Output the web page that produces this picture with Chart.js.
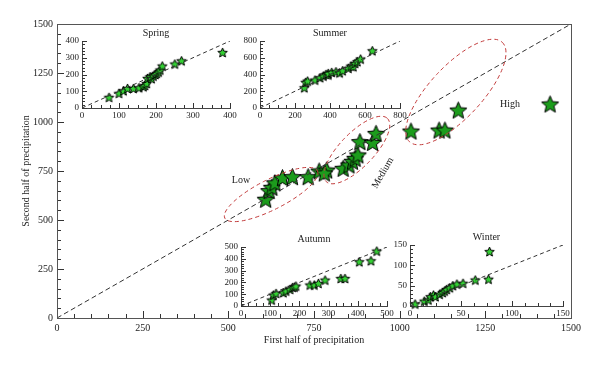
<!DOCTYPE html>
<html>
<head>
<meta charset="utf-8">
<script src="https://cdn.jsdelivr.net/npm/chart.js@4/dist/chart.umd.min.js"></script>
<style>
    body { margin: 0; background: #fff; }
    #wrap { position: relative; width: 600px; height: 367px; }
    #wrap canvas { position: absolute; }
</style>
</head>
<body>
<div id="wrap">
    <canvas id="mainChart" width="600" height="367" style="left:0;top:0"></canvas>
    <canvas id="springChart"></canvas>
    <canvas id="summerChart"></canvas>
    <canvas id="autumnChart"></canvas>
    <canvas id="winterChart"></canvas>
</div>
<script>
// annual: first half vs second half of precipitation
const mainX = [609, 619, 627, 636, 658, 687, 733, 765, 787, 780, 835, 852, 862, 870, 878, 884, 921, 931, 1033, 1115, 1132, 1171, 1439];
const mainY = [606, 650, 667, 690, 716, 721, 721, 750, 755, 740, 764, 781, 800, 815, 832, 900, 896, 942, 954, 959, 959, 1061, 1092];
const mainDiag = [0, 1500];

// seasons
const springX = [73, 100, 112, 123, 139, 154, 166, 170, 175, 177, 184, 188, 193, 198, 202, 207, 211, 217, 251, 269, 380];
const springY = [64, 88, 103, 117, 117, 121, 127, 135, 147, 177, 187, 175, 191, 200, 207, 215, 227, 251, 263, 282, 332];
const summerX = [253, 261, 272, 314, 343, 362, 377, 390, 390, 410, 434, 455, 472, 505, 520, 533, 543, 556, 575, 642];
const summerY = [242, 307, 322, 334, 362, 382, 402, 395, 414, 426, 433, 420, 445, 474, 500, 493, 533, 553, 585, 684];
const autumnX = [105, 111, 120, 145, 154, 168, 177, 183, 188, 236, 251, 265, 288, 342, 356, 405, 445, 465];
const autumnY = [51, 93, 107, 113, 127, 141, 158, 160, 169, 178, 178, 192, 220, 234, 234, 375, 384, 466];
const winterX = [5, 14, 18, 20, 23, 25, 29, 32, 34, 36, 39, 42, 46, 52, 64, 77, 78];
const winterY = [5, 12, 15, 23, 27, 23, 29, 33, 37, 41, 45, 50, 54, 56, 64, 66, 134];

const groupLabels = ["Low", "Medium", "High"];

Chart.defaults.font.family = '"Liberation Serif", "DejaVu Serif", serif';
Chart.defaults.color = "#222";
Chart.defaults.animation = false;

// five pointed star used as point style
function makeStar(r, fill) {
    const c = document.createElement("canvas");
    const s = Math.ceil(r * 2 + 3);
    c.width = s;
    c.height = s;
    const ctx = c.getContext("2d");
    ctx.translate(s / 2, s / 2 + r * 0.1);
    ctx.beginPath();
    for (let i = 0; i < 10; i++) {
        const rad = i % 2 === 0 ? r : r * 0.45;
        const a = -Math.PI / 2 + i * Math.PI / 5;
        ctx.lineTo(rad * Math.cos(a), rad * Math.sin(a));
    }
    ctx.closePath();
    ctx.fillStyle = fill;
    ctx.fill();
    ctx.lineWidth = 1;
    ctx.strokeStyle = "#000";
    ctx.stroke();
    return c;
}

function toPoints(xs, ys) {
    return xs.map((x, i) => ({ x: x, y: ys[i] }));
}

// plain numbers, no thousands separator
const plain = v => String(v);

// tick marks drawn on the inside of the axes, major and minor
const innerTicks = {
    id: "innerTicks",
    afterDraw(chart, args, opts) {
        const { ctx, chartArea: a, scales } = chart;
        const xs = scales.x, ys = scales.y;
        ctx.save();
        ctx.strokeStyle = "#333";
        ctx.lineWidth = 1;
        ctx.beginPath();
        for (let v = xs.min; v <= xs.max + 1e-6; v += opts.xMinor) {
            const px = Math.round(xs.getPixelForValue(v)) + 0.5;
            const len = Math.abs(v / opts.xMajor - Math.round(v / opts.xMajor)) < 1e-6 ? opts.majorLen : opts.minorLen;
            ctx.moveTo(px, a.bottom);
            ctx.lineTo(px, a.bottom - len);
        }
        for (let v = ys.min; v <= ys.max + 1e-6; v += opts.yMinor) {
            const py = Math.round(ys.getPixelForValue(v)) + 0.5;
            const len = Math.abs(v / opts.yMajor - Math.round(v / opts.yMajor)) < 1e-6 ? opts.majorLen : opts.minorLen;
            ctx.moveTo(a.left, py);
            ctx.lineTo(a.left + len, py);
        }
        ctx.stroke();
        if (opts.frame) {
            ctx.strokeStyle = "#555";
            ctx.strokeRect(a.left + 0.5, a.top + 0.5, a.right - a.left, a.bottom - a.top);
        }
        ctx.restore();
    }
};

// dashed red ellipses round the groups, with their names
const groups = {
    id: "groups",
    afterDatasetsDraw(chart) {
        const { ctx, scales } = chart;
        const xs = scales.x, ys = scales.y;
        const ellipses = [
            { cx: 625, cy: 630, rx: 52, ry: 15, rot: -27 },
            { cx: 875, cy: 857, rx: 44, ry: 17, rot: -46 },
            { cx: 1164, cy: 1153, rx: 68, ry: 26, rot: -47 }
        ];
        ctx.save();
        ctx.strokeStyle = "#c23b3b";
        ctx.lineWidth = 1;
        ctx.setLineDash([4, 3]);
        ellipses.forEach(e => {
            ctx.beginPath();
            ctx.ellipse(xs.getPixelForValue(e.cx), ys.getPixelForValue(e.cy), e.rx, e.ry, e.rot * Math.PI / 180, 0, Math.PI * 2);
            ctx.stroke();
        });
        ctx.setLineDash([]);
        ctx.fillStyle = "#222";
        ctx.font = '10px "Liberation Serif", serif';
        ctx.textAlign = "center";
        ctx.textBaseline = "middle";
        ctx.fillText(groupLabels[0], xs.getPixelForValue(537), ys.getPixelForValue(704));
        ctx.fillText(groupLabels[2], xs.getPixelForValue(1322), ys.getPixelForValue(1092));
        ctx.translate(xs.getPixelForValue(951), ys.getPixelForValue(740));
        ctx.rotate(-60 * Math.PI / 180);
        ctx.fillText(groupLabels[1], 0, 0);
        ctx.restore();
    }
};

const bigStar = makeStar(9, "#1c9c1c");
const smallStar = makeStar(5, "#33d133");

new Chart(document.getElementById("mainChart"), {
    type: "scatter",
    data: {
        datasets: [
            {
                data: toPoints(mainDiag, mainDiag),
                showLine: true,
                borderColor: "#333",
                borderWidth: 1,
                borderDash: [5, 3],
                pointRadius: 0
            },
            {
                data: toPoints(mainX, mainY),
                pointStyle: bigStar,
                pointRadius: 9
            }
        ]
    },
    options: {
        responsive: false,
        layout: { padding: { top: 24, right: 29 } },
        plugins: {
            legend: { display: false },
            tooltip: { enabled: false },
            innerTicks: { xMinor: 50, xMajor: 250, yMinor: 50, yMajor: 250, majorLen: 7, minorLen: 4, frame: true }
        },
        scales: {
            x: {
                min: 0, max: 1500,
                afterFit: s => { s.height = 49; },
                grid: { display: false, drawTicks: false },
                border: { display: true, color: "#444" },
                ticks: { stepSize: 250, padding: 4, autoSkip: false, callback: plain, font: { size: 10 } },
                title: { display: true, text: "First half of precipitation", font: { size: 10 }, padding: { bottom: 21 } }
            },
            y: {
                min: 0, max: 1500,
                afterFit: s => { s.width = 57; },
                grid: { display: false, drawTicks: false },
                border: { display: true, color: "#444" },
                ticks: { stepSize: 250, padding: 4, autoSkip: false, callback: plain, font: { size: 10 } },
                title: { display: true, text: "Second half of precipitation", font: { size: 10 }, padding: { top: 20 } }
            }
        }
    },
    plugins: [innerTicks, groups]
});

function makeInset(id, box, name, xs, ys, max, major, xMinor, yMinor) {
    const canvas = document.getElementById(id);
    canvas.width = box.r - box.l + 26 + 14;
    canvas.height = box.b - box.t + 18 + 14;
    canvas.style.left = (box.l - 26) + "px";
    canvas.style.top = (box.t - 18) + "px";
    const diag = [0, max];
    new Chart(canvas, {
        type: "scatter",
        data: {
            datasets: [
                {
                    data: toPoints(diag, diag),
                    showLine: true,
                    borderColor: "#333",
                    borderWidth: 1,
                    borderDash: [4, 3],
                    pointRadius: 0
                },
                {
                    data: toPoints(xs, ys),
                    pointStyle: smallStar,
                    pointRadius: 5,
                    clip: false
                }
            ]
        },
        options: {
            responsive: false,
            layout: { padding: { right: 14 } },
            plugins: {
                legend: { display: false },
                tooltip: { enabled: false },
                title: { display: true, text: name, fullSize: false, font: { size: 10, weight: "normal" }, color: "#222", padding: { top: 4, bottom: 2 } },
                innerTicks: { xMinor: xMinor, xMajor: major, yMinor: yMinor, yMajor: major, majorLen: 5, minorLen: 3, frame: false }
            },
            scales: {
                x: {
                    min: 0, max: max,
                    afterFit: s => { s.height = 14; },
                    grid: { display: false, drawTicks: false },
                    border: { display: true, color: "#444" },
                    ticks: { stepSize: major, padding: 2, autoSkip: false, maxRotation: 0, callback: plain, font: { size: 9 } }
                },
                y: {
                    min: 0, max: max,
                    afterFit: s => { s.width = 26; },
                    grid: { display: false, drawTicks: false },
                    border: { display: true, color: "#444" },
                    ticks: { stepSize: major, padding: 3, autoSkip: false, callback: plain, font: { size: 9 } }
                }
            }
        },
        plugins: [innerTicks]
    });
}

makeInset("springChart", { l: 82, t: 41, r: 230, b: 108 }, "Spring", springX, springY, 400, 100, 25, 20);
makeInset("summerChart", { l: 260, t: 41, r: 400, b: 108 }, "Summer", summerX, summerY, 800, 200, 50, 40);
makeInset("autumnChart", { l: 241, t: 247, r: 387, b: 306 }, "Autumn", autumnX, autumnY, 500, 100, 25, 20);
makeInset("winterChart", { l: 410, t: 245, r: 563, b: 306 }, "Winter", winterX, winterY, 150, 50, 12.5, 10);
</script>
</body>
</html>
